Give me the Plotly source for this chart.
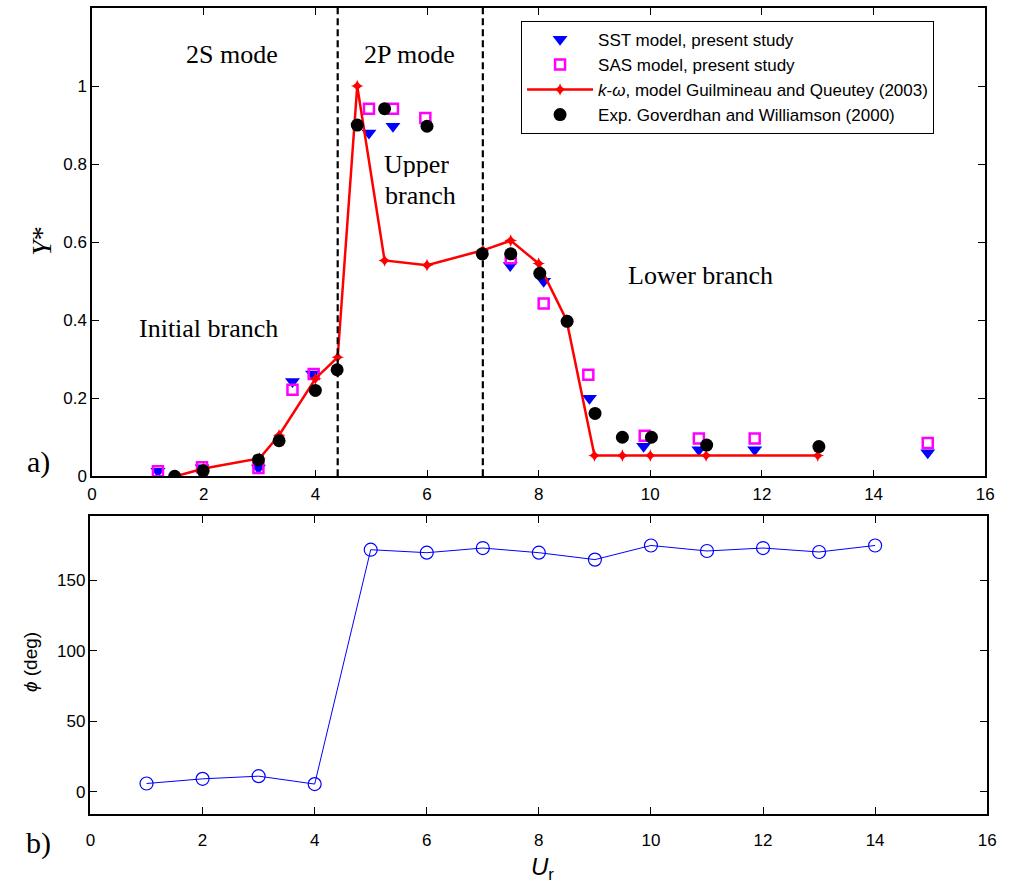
import plotly.graph_objects as go

W, H = 1011, 887

# ---------------- data ----------------
sst_x = [1.18, 1.97, 2.98, 3.59, 3.95, 4.96, 5.39, 7.49, 8.09, 8.91, 9.88, 10.87, 11.87, 14.97]
sst_y = [0.013, 0.022, 0.021, 0.243, 0.262, 0.88, 0.897, 0.54, 0.5, 0.2, 0.077, 0.068, 0.068, 0.06]

sas_x = [1.18, 1.97, 2.98, 3.59, 3.97, 4.96, 5.39, 5.97, 7.5, 8.09, 8.89, 9.9, 10.87, 11.87, 14.97]
sas_y = [0.013, 0.023, 0.021, 0.222, 0.262, 0.942, 0.942, 0.918, 0.559, 0.443, 0.26, 0.104, 0.097, 0.097, 0.085]

kw_x = [1.5, 2.0, 3.0, 3.35, 4.0, 4.4, 4.75, 5.24, 6.0, 7.0, 7.5, 8.0, 8.5, 9.0, 9.5, 10.0, 11.0, 13.0]
kw_y = [0.0, 0.02, 0.046, 0.105, 0.25, 0.305, 1.0, 0.553, 0.541, 0.579, 0.604, 0.545, 0.4, 0.053, 0.053, 0.053, 0.053, 0.053]

exp_x = [1.48, 1.99, 2.98, 3.35, 4.0, 4.39, 4.75, 5.24, 6.0, 6.99, 7.5, 8.02, 8.51, 9.01, 9.5, 10.02, 11.01, 13.02]
exp_y = [0.0, 0.014, 0.042, 0.091, 0.22, 0.273, 0.9, 0.942, 0.897, 0.57, 0.57, 0.52, 0.397, 0.161, 0.1, 0.1, 0.08, 0.076]

phase_x = [1, 2, 3, 4, 5, 6, 7, 8, 9, 10, 11, 12, 13, 14]
phase_y = [6, 9.3, 11.2, 5.6, 171.5, 169.4, 172.7, 169.4, 164.5, 174.5, 170.6, 172.7, 169.9, 174.5]

mode_lines = [4.4, 7.0]

top_yticks = [0, 0.2, 0.4, 0.6, 0.8, 1]
top_yticktext = ["0", "0.2", "0.4", "0.6", "0.8", "1"]
xticks = [0, 2, 4, 6, 8, 10, 12, 14, 16]
bot_yticks = [0, 50, 100, 150]

# ---------------- helpers (pixel -> paper) ----------------
def px(x):
    return x / W

def py(y):
    return 1 - y / H

SANS = "Liberation Sans, Arial, sans-serif"
SERIF = "Liberation Serif, Times New Roman, serif"

fig = go.Figure()

fig.add_trace(go.Scatter(
    x=sst_x, y=sst_y, mode="markers", name="SST model, present study",
    marker=dict(symbol="triangle-down", size=13, color="#0000ff", line=dict(width=0)),
    xaxis="x", yaxis="y", legendgroup="a"))
fig.add_trace(go.Scatter(
    x=sas_x, y=sas_y, mode="markers", name="SAS model, present study",
    marker=dict(symbol="square-open", size=10, color="#ff00ff", line=dict(width=2.5, color="#ff00ff")),
    xaxis="x", yaxis="y", legendgroup="b"))
fig.add_trace(go.Scatter(
    x=kw_x, y=kw_y, mode="lines+markers",
    name="<i>k</i>-<i>ω</i>, model Guilmineau and Queutey (2003)",
    line=dict(color="#ff0000", width=2.5),
    marker=dict(symbol="star-diamond", size=9, color="#ff0000"),
    xaxis="x", yaxis="y", legendgroup="c"))
fig.add_trace(go.Scatter(
    x=exp_x, y=exp_y, mode="markers", name="Exp. Goverdhan and Williamson (2000)",
    marker=dict(symbol="circle", size=13, color="#000000"),
    xaxis="x", yaxis="y", legendgroup="d"))

fig.add_trace(go.Scatter(
    x=phase_x, y=phase_y, mode="lines+markers", showlegend=False,
    line=dict(color="#0000ff", width=1),
    marker=dict(symbol="circle-open", size=13, color="#0000ff", line=dict(width=1.2, color="#0000ff")),
    xaxis="x2", yaxis="y2"))

shapes = []
for xv in mode_lines:
    shapes.append(dict(type="line", xref="x", yref="y", x0=xv, x1=xv, y0=0, y1=1.2,
                       line=dict(color="black", width=2.2, dash="7px,4px")))

axis_common = dict(showgrid=False, zeroline=False, showline=True, linecolor="black",
                   linewidth=1.5, mirror="allticks", ticks="inside", ticklen=7,
                   tickcolor="black", tickwidth=1,
                   tickfont=dict(family=SANS, size=17, color="black"))

serif26 = dict(family=SERIF, size=26, color="black")
annotations = [
    dict(text="2S mode", x=2.5, y=1.08, xref="x", yref="y", showarrow=False, font=serif26),
    dict(text="2P mode", x=5.68, y=1.08, xref="x", yref="y", showarrow=False, font=serif26),
    dict(text="Upper", x=5.81, y=0.80, xref="x", yref="y", showarrow=False, font=serif26,
         height=26, valign="middle"),
    dict(text="branch", x=5.88, y=0.72, xref="x", yref="y", showarrow=False, font=serif26,
         height=26, valign="middle"),
    dict(text="Lower branch", x=10.9, y=0.515, xref="x", yref="y", showarrow=False, font=serif26),
    dict(text="Initial branch", x=2.09, y=0.378, xref="x", yref="y", showarrow=False, font=serif26),
    dict(text="a)", x=px(34), y=py(467), xref="paper", yref="paper", showarrow=False,
         xanchor="center", yanchor="middle", font=dict(family=SERIF, size=30, color="black")),
    dict(text="b)", x=px(34), y=py(853), xref="paper", yref="paper", showarrow=False,
         xanchor="center", yanchor="middle", font=dict(family=SERIF, size=30, color="black")),
    dict(text="<i>Y</i>*", x=px(37), y=py(243), xref="paper", yref="paper", showarrow=False,
         xanchor="center", yanchor="middle",
         textangle=-90, font=dict(family=SERIF, size=28, color="black")),
    dict(text="<i>ϕ</i> (deg)", x=px(26), y=py(670), xref="paper", yref="paper", showarrow=False,
         xanchor="center", yanchor="middle",
         textangle=-90, font=dict(family=SANS, size=19, color="black")),
    dict(text="<i>U</i><sub>r</sub>", x=px(545), y=py(878), xref="paper", yref="paper", showarrow=False,
         xanchor="center", yanchor="middle",
         font=dict(family=SANS, size=24, color="black")),
]

fig.update_layout(
    width=W, height=H,
    margin=dict(l=0, r=0, t=0, b=0),
    paper_bgcolor="white", plot_bgcolor="white",
    xaxis=dict(axis_common, domain=[px(88.3), px(994)], range=[0, 16],
               tickvals=xticks, anchor="y", ticklabelstandoff=2),
    yaxis=dict(axis_common, domain=[py(481.7), py(8.1)], range=[0, 1.2],
               tickvals=top_yticks, ticktext=top_yticktext, anchor="x"),
    xaxis2=dict(axis_common, domain=[px(86.7), px(996)], range=[0, 16],
                tickvals=xticks, anchor="y2", ticklabelstandoff=10),
    yaxis2=dict(axis_common, domain=[py(823.3), py(521.7)], range=[-15.6, 195.5],
                tickvals=bot_yticks, anchor="x2"),
    shapes=shapes,
    annotations=annotations,
    showlegend=True,
    legend=dict(x=px(523.3), y=py(21), xanchor="left", yanchor="top",
                bgcolor="white", bordercolor="black", borderwidth=1,
                font=dict(family=SANS, size=17, color="black"),
                itemwidth=66, tracegroupgap=0, traceorder="normal"),
)

fig.write_html("out.html")
